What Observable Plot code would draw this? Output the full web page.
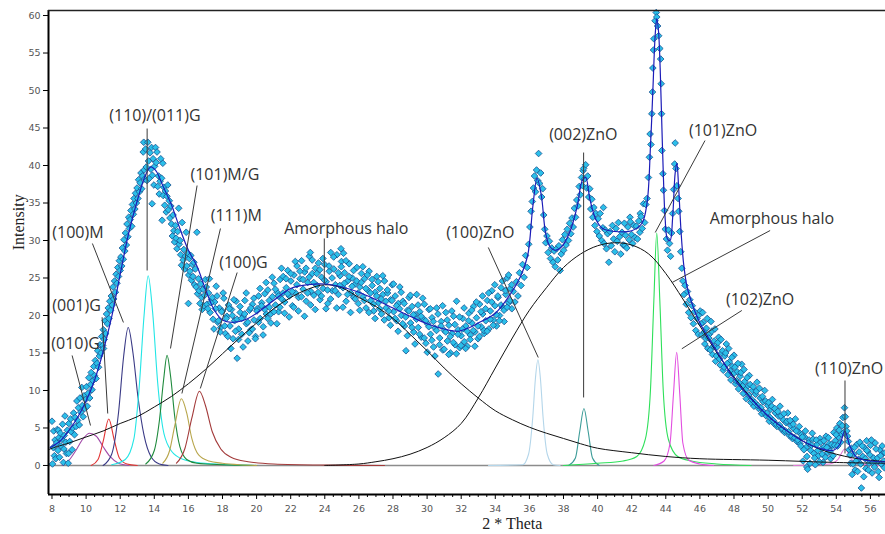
<!DOCTYPE html>
<html><head><meta charset="utf-8">
<script src="https://cdn.jsdelivr.net/npm/d3@7"></script>
<script src="https://cdn.jsdelivr.net/npm/@observablehq/plot@0.6"></script>
<style>
html,body{margin:0;padding:0;background:#fff;}
#chart{width:885px;height:534px;overflow:hidden;}
</style></head><body><div id="chart"></div>
<script>
// ---------- axis ticks ----------
const thetaTicks = [8,10,12,14,16,18,20,22,24,26,28,30,32,34,36,38,40,42,44,46,48,50,52,54,56];
const intensityTicks = [0,5,10,15,20,25,30,35,40,45,50,55,60];
const xDomain = [7.795, 56.886];
const yDomain = [-3.87, 60.67];

// ---------- measured points (2θ, intensity) flat pairs ----------
const scatterA = [8.00,5.9, 8.03,0.2, 8.07,2.4, 8.10,4.6, 8.14,1.3, 8.18,3.4, 8.22,0.9, 8.27,3.0, 8.31,4.8, 8.35,2.0, 8.38,4.7, 8.40,3.7, 8.44,1.1, 8.49,4.3, 8.53,2.6, 8.58,3.5, 8.62,5.5, 8.67,0.4, 8.70,2.2, 8.72,4.0, 8.76,6.6, 8.81,3.1, 8.85,1.6, 8.90,4.7, 8.95,0.3, 8.97,1.6, 8.99,5.6, 9.04,3.2, 9.09,6.2, 9.13,4.5, 9.18,2.1, 9.22,5.0, 9.27,7.0, 9.32,4.1, 9.36,6.4, 9.41,5.2, 9.46,8.6, 9.50,6.0, 9.55,7.7, 9.60,5.4, 9.64,9.0, 9.69,7.1, 9.75,10.4, 9.78,8.0, 9.83,6.5, 9.88,9.3, 9.92,7.6, 9.97,8.8, 10.02,10.5, 10.07,7.9, 10.11,9.6, 10.16,11.7, 10.21,9.0, 10.26,10.8, 10.30,12.4, 10.35,10.1, 10.40,11.3, 10.45,13.2, 10.49,12.0, 10.54,14.0, 10.59,11.6, 10.64,13.6, 10.68,15.3, 10.73,13.1, 10.78,14.6, 10.82,16.1, 10.87,15.0, 10.92,17.2, 10.97,16.0, 11.01,18.1, 11.02,15.6, 11.06,16.8, 11.11,19.3, 11.15,17.6, 11.20,20.2, 11.25,18.9, 11.30,21.0, 11.34,19.6, 11.39,21.9, 11.44,20.7, 11.48,22.6, 11.53,21.4, 11.58,23.8, 11.62,22.2, 11.67,24.6, 11.72,23.1, 11.76,25.5, 11.81,24.3, 11.86,26.4, 11.90,25.2, 11.95,27.3, 12.00,26.0];
const scatterB = [12.04,27.8, 12.09,26.6, 12.13,29.0, 12.18,27.5, 12.22,30.1, 12.27,28.6, 12.31,31.0, 12.36,29.4, 12.40,32.2, 12.45,30.5, 12.50,33.1, 12.54,31.6, 12.59,32.8, 12.63,34.0, 12.68,31.9, 12.72,34.8, 12.77,33.5, 12.81,35.6, 12.86,34.2, 12.90,36.3, 12.95,35.0, 12.99,37.0, 13.04,35.6, 13.08,38.1, 13.13,36.5, 13.17,37.7, 13.22,39.0, 13.26,36.9, 13.31,38.6, 13.35,41.8, 13.38,43.1, 13.40,39.4, 13.44,38.2, 13.49,42.2, 13.53,39.8, 13.57,38.0, 13.62,43.1, 13.66,40.6, 13.71,38.3, 13.75,41.7, 13.80,39.5, 13.84,42.4, 13.87,34.9, 13.89,38.7, 13.93,40.9, 13.98,37.4, 14.02,39.9, 14.07,42.4, 14.11,40.4, 14.16,41.8, 14.20,37.2, 14.25,38.6, 14.29,36.2, 14.34,37.9, 14.38,40.9, 14.43,38.3, 14.46,32.7, 14.50,40.3, 14.52,36.0, 14.56,37.1, 14.61,34.7, 14.65,36.6, 14.70,33.8, 14.74,35.9, 14.79,37.4, 14.83,34.1, 14.88,35.3, 14.92,33.0, 14.97,34.6, 15.01,32.2, 15.06,30.6, 15.10,33.4, 15.15,31.3, 15.19,29.8, 15.24,32.0, 15.28,30.3, 15.33,28.9, 15.37,31.2, 15.43,34.3, 15.46,29.5, 15.51,30.0, 15.55,28.1, 15.60,26.7, 15.63,32.4, 15.69,27.4, 15.73,28.8, 15.78,26.2, 15.82,27.9, 15.87,31.1, 15.91,26.6, 15.96,28.3, 16.00,21.6, 16.02,25.4, 16.05,27.6, 16.09,25.9, 16.14,28.0, 16.18,24.7, 16.23,26.8, 16.27,25.2, 16.32,27.1, 16.36,24.1, 16.41,26.2, 16.45,23.8, 16.50,31.1, 16.54,22.9, 16.59,24.9, 16.63,23.3, 16.68,21.6, 16.72,24.2, 16.77,22.4, 16.81,20.8, 16.86,23.5, 16.90,21.3, 16.95,22.7];
const scatterC = [17.00,24.8, 17.09,21.5, 17.18,23.0, 17.27,20.4, 17.36,22.1, 17.45,19.5, 17.54,21.8, 17.63,23.9, 17.72,19.1, 17.81,21.0, 17.90,18.4, 17.99,20.6, 18.08,22.3, 18.17,17.6, 18.26,19.9, 18.35,21.4, 18.44,18.6, 18.53,20.8, 18.62,16.9, 18.71,19.3, 18.80,21.9, 18.86,14.3, 18.95,18.2, 19.04,20.4, 19.13,17.5, 19.22,19.8, 19.31,22.0, 19.40,18.9, 19.49,16.6, 19.58,20.7, 19.67,18.1, 19.76,21.5, 19.85,19.4, 19.94,17.2, 20.03,20.9, 20.12,22.6, 20.21,19.6, 20.30,21.7, 20.39,18.5, 20.48,22.9, 20.57,20.2, 20.66,23.4, 20.75,21.1, 20.84,19.0, 20.93,22.5, 21.02,24.3, 21.11,21.4, 21.20,23.1, 21.29,20.5, 21.38,24.8, 21.47,22.2, 21.56,25.2, 21.65,21.8, 21.74,23.7, 21.83,26.0, 21.92,22.6, 22.01,24.6, 22.10,21.3, 22.19,25.4, 22.28,23.0, 22.37,26.6, 22.46,22.4, 22.55,24.9, 22.64,27.3, 22.73,23.5, 22.82,25.8, 22.91,21.9, 23.00,24.4, 23.09,27.9, 23.15,28.4, 23.18,23.2, 23.27,25.6, 23.36,22.7, 23.45,26.3, 23.54,24.0, 23.63,27.0, 23.72,22.1, 23.81,25.1, 23.90,23.6, 23.99,26.8, 24.08,24.5, 24.17,21.6, 24.26,25.9, 24.35,28.4, 24.44,23.3, 24.53,26.2, 24.62,24.1, 24.71,28.1, 24.80,22.8, 24.89,25.3, 24.95,28.9, 24.98,27.2, 25.07,23.7, 25.10,28.3, 25.16,25.7, 25.25,21.9, 25.34,24.6, 25.43,26.9, 25.52,23.0, 25.61,25.0, 25.70,22.4, 25.79,24.2, 25.88,26.4, 25.97,21.6, 26.06,23.8, 26.15,25.6, 26.24,22.5, 26.33,24.9, 26.42,21.0, 26.51,23.4, 26.60,25.9, 26.69,22.0, 26.78,24.0, 26.87,20.6, 26.96,23.1, 27.05,25.2, 27.14,21.7, 27.23,23.6, 27.32,20.2, 27.41,22.8, 27.50,24.6, 27.59,21.0, 27.68,23.0, 27.77,19.7, 27.86,22.1, 27.95,24.1, 28.04,20.5, 28.13,22.6, 28.22,19.3, 28.31,21.6, 28.40,23.8, 28.49,20.0, 28.58,21.9, 28.67,18.6, 28.76,15.3, 28.85,20.7, 28.94,22.4, 29.03,19.0, 29.12,21.2, 29.21,17.8, 29.30,20.1, 29.39,22.8, 29.48,18.4, 29.57,20.5, 29.66,17.1, 29.75,19.6, 29.84,21.5, 29.93,16.3, 30.02,18.9, 30.11,20.8, 30.20,17.5, 30.29,19.7, 30.38,15.8, 30.47,18.3, 30.56,21.0, 30.65,12.2, 30.74,17.0, 30.83,19.2, 30.92,15.4, 31.01,18.0, 31.10,20.4, 31.19,16.6, 31.28,18.7, 31.37,15.0, 31.46,17.6, 31.55,19.9, 31.64,16.1, 31.73,21.9, 31.82,18.1, 31.91,15.7, 32.00,17.3, 32.09,19.6, 32.18,16.5, 32.27,18.6, 32.36,15.9, 32.45,20.3, 32.54,17.4, 32.63,19.0, 32.72,21.2, 32.81,17.8, 32.90,19.7, 32.99,16.9, 33.08,21.5, 33.17,18.5, 33.26,20.2, 33.35,17.6, 33.44,19.3, 33.53,22.0, 33.62,18.2, 33.71,20.6, 33.80,23.3, 33.89,19.4, 33.98,21.3, 34.07,18.6, 34.16,22.4, 34.25,20.0, 34.34,23.7, 34.43,21.1, 34.52,19.2, 34.61,22.8, 34.70,25.0, 34.79,21.7, 34.88,23.6, 34.97,20.9];
const scatterC2 = [17.05,23.8, 17.14,20.9, 17.23,24.9, 17.32,21.7, 17.41,22.4, 17.50,18.2, 17.59,20.9, 17.68,22.6, 17.77,19.3, 17.86,17.8, 17.95,20.5, 18.04,23.0, 18.13,18.6, 18.22,19.6, 18.31,17.2, 18.40,20.9, 18.49,15.6, 18.58,20.0, 18.67,22.1, 18.76,17.9, 18.85,19.5, 18.94,16.8, 19.03,21.2, 19.12,19.6, 19.21,15.8, 19.30,20.2, 19.39,23.0, 19.48,19.1, 19.57,17.7, 19.66,21.0, 19.75,18.2, 19.84,22.3, 19.93,16.9, 20.02,20.6, 20.11,19.1, 20.20,23.6, 20.29,21.3, 20.38,17.4, 20.47,20.8, 20.56,24.4, 20.65,19.6, 20.74,22.0, 20.83,20.2, 20.92,25.1, 21.01,20.5, 21.10,23.5, 21.19,18.9, 21.28,22.6, 21.37,21.1, 21.46,26.3, 21.55,23.0, 21.64,20.3, 21.73,24.9, 21.82,22.9, 21.91,19.8, 22.00,25.6, 22.09,23.2, 22.18,21.1, 22.27,27.2, 22.36,24.1, 22.45,20.6, 22.54,25.9, 22.63,22.5, 22.72,24.8, 22.81,19.9, 22.90,26.3, 22.99,23.0, 23.08,25.1, 23.17,21.4, 23.26,27.4, 23.35,24.4, 23.44,20.8, 23.53,25.6, 23.62,23.1, 23.71,26.1, 23.80,22.6, 23.89,27.6, 23.98,24.7, 24.07,20.9, 24.16,23.4, 24.25,26.6, 24.34,22.2, 24.43,25.0, 24.52,27.8, 24.61,23.3, 24.70,21.0, 24.79,25.7, 24.88,24.0, 24.97,26.5, 25.06,21.1, 25.15,24.3, 25.24,27.3, 25.33,22.8, 25.42,25.2, 25.51,20.4, 25.60,23.9, 25.69,26.0, 25.78,22.2, 25.87,24.6, 25.96,23.0, 26.05,20.7, 26.14,24.4, 26.23,26.5, 26.32,22.0, 26.41,23.6, 26.50,25.4, 26.59,20.4, 26.68,23.0, 26.77,24.8, 26.86,21.5, 26.95,19.6, 27.04,22.6, 27.13,24.5, 27.22,20.9, 27.31,22.2, 27.40,25.3, 27.49,19.4, 27.58,21.9, 27.67,23.4, 27.76,20.6, 27.85,18.7, 27.94,22.0, 28.03,24.2, 28.12,19.6, 28.21,21.3, 28.30,17.9, 28.39,20.9, 28.48,23.1, 28.57,18.9, 28.66,21.6, 28.75,19.8, 28.84,17.3, 28.93,20.6, 29.02,22.7, 29.11,18.4, 29.20,20.1, 29.29,16.2, 29.38,19.5, 29.47,21.4, 29.56,17.5, 29.65,19.9, 29.74,22.3, 29.83,17.0, 29.92,19.3, 30.01,15.1, 30.10,18.5, 30.19,20.9, 30.28,16.7, 30.37,19.2, 30.46,14.6, 30.55,18.0, 30.64,20.2, 30.73,16.1, 30.82,18.6, 30.91,21.3, 31.00,15.5, 31.09,17.8, 31.18,19.4, 31.27,14.8, 31.36,17.2, 31.45,20.6, 31.54,16.4, 31.63,18.8, 31.72,14.9, 31.81,17.5, 31.90,19.8, 31.99,16.0, 32.08,18.2, 32.17,21.0, 32.26,15.6, 32.35,17.9, 32.44,19.3, 32.53,16.8, 32.62,20.7, 32.71,18.0, 32.80,15.9, 32.89,21.8, 32.98,18.6, 33.07,17.2, 33.16,20.5, 33.25,22.6, 33.34,18.0, 33.43,20.9, 33.52,17.9, 33.61,23.0, 33.70,19.5, 33.79,21.8, 33.88,18.7, 33.97,24.1, 34.06,20.1, 34.15,22.6, 34.24,19.3, 34.33,21.4, 34.42,24.6, 34.51,20.7, 34.60,23.3, 34.69,21.1, 34.78,25.4, 34.87,22.0, 34.96,24.1];
const scatterD = [35.06,23.2, 35.15,21.8, 35.24,24.5, 35.33,22.6, 35.42,25.7, 35.51,24.0, 35.60,26.8, 35.69,25.1, 35.78,28.0, 35.87,26.4, 35.96,29.5, 36.03,31.8, 36.10,33.9, 36.17,35.2, 36.24,37.0, 36.30,38.6, 36.36,36.5, 36.42,39.4, 36.48,38.0, 36.54,41.6, 36.60,37.6, 36.66,39.0, 36.72,35.8, 36.78,36.9, 36.84,33.4, 36.90,31.5, 36.96,29.7, 37.03,30.6, 37.10,28.4, 37.17,29.9, 37.24,27.6, 37.31,29.0, 37.38,27.1, 37.45,28.6, 37.52,26.5, 37.59,28.9, 37.66,27.4, 37.73,29.3, 37.80,26.0, 37.87,28.2, 37.94,30.1, 38.01,28.7, 38.08,30.8, 38.15,29.4, 38.22,31.5, 38.29,30.0, 38.36,32.3, 38.43,30.9, 38.50,33.0, 38.57,31.8, 38.64,34.3, 38.71,33.1, 38.78,35.4, 38.85,34.6, 38.92,37.2, 38.99,36.1, 39.06,38.4, 39.12,37.3, 39.15,39.3, 39.18,39.6, 39.24,38.2, 39.30,40.1, 39.36,37.0, 39.42,38.6, 39.48,35.8, 39.54,36.9, 39.60,34.2, 39.66,35.5, 39.72,33.1, 39.78,34.4, 39.84,32.0, 39.90,33.6, 39.96,31.2, 40.03,32.9, 40.10,30.6, 40.15,33.6, 40.24,30.0, 40.31,31.7, 40.34,34.4, 40.38,29.6, 40.45,31.4, 40.52,28.9, 40.59,30.9, 40.66,27.1, 40.73,31.2, 40.80,29.3, 40.87,32.0, 40.94,30.2, 41.01,28.5, 41.08,31.6, 41.15,29.9, 41.22,32.4, 41.29,30.5, 41.36,28.2, 41.43,31.1, 41.50,29.4, 41.57,32.3, 41.60,29.3, 41.64,30.7, 41.71,29.0, 41.78,31.8, 41.85,30.1, 41.90,33.1, 41.92,32.5, 41.99,30.8, 42.06,29.6, 42.13,32.0, 42.20,30.4, 42.27,31.9, 42.34,30.2, 42.41,32.6, 42.48,31.1, 42.50,33.6, 42.55,33.2, 42.62,31.6, 42.69,34.9, 42.76,32.4, 42.83,34.8, 42.90,35.6, 42.98,38.4, 43.04,41.1, 43.08,44.2, 43.13,42.8, 43.18,46.9, 43.22,49.8, 43.24,53.0, 43.28,55.4, 43.30,56.9, 43.37,59.3, 43.44,60.4, 43.47,59.8, 43.52,58.6, 43.58,57.3, 43.65,55.6, 43.70,54.2, 43.73,50.9, 43.75,46.9, 43.77,42.0, 43.83,38.9, 43.86,36.7, 43.92,34.0, 43.97,31.5, 44.04,30.2, 44.10,28.7, 44.16,31.4, 44.22,29.6, 44.28,27.9, 44.34,31.0, 44.40,33.6, 44.46,36.8, 44.52,40.2, 44.55,43.0, 44.60,39.6, 44.66,37.3, 44.72,35.6, 44.76,33.9, 44.82,31.2, 44.88,28.5, 44.94,26.3, 45.00,24.6, 45.07,22.8, 45.13,24.0, 45.20,21.5, 45.27,23.2, 45.34,20.4, 45.41,22.1, 45.48,19.7, 45.55,21.3, 45.62,18.9, 45.69,20.5, 45.76,18.0, 45.83,19.6, 45.90,17.5, 45.96,20.1];
const scatterE = [46.02,20.6, 46.11,17.4, 46.20,19.1, 46.29,16.2, 46.38,18.3, 46.47,15.6, 46.56,17.5, 46.65,19.2, 46.74,14.8, 46.83,16.6, 46.92,13.9, 47.01,15.8, 47.10,17.1, 47.19,13.4, 47.28,15.0, 47.37,12.7, 47.46,14.6, 47.55,16.2, 47.64,12.1, 47.73,13.8, 47.82,11.4, 47.91,13.2, 48.00,14.7, 48.09,10.9, 48.18,12.5, 48.27,10.2, 48.36,11.9, 48.45,13.5, 48.54,9.6, 48.63,11.2, 48.72,8.9, 48.81,10.6, 48.90,12.0, 48.99,8.4, 49.08,10.0, 49.17,7.9, 49.26,9.5, 49.35,11.1, 49.44,7.6, 49.53,9.0, 49.62,6.9, 49.71,8.5, 49.80,10.0, 49.89,6.6, 49.98,8.0, 50.07,5.9, 50.16,7.5, 50.25,8.8, 50.34,5.6, 50.43,7.0, 50.52,5.2, 50.61,6.6, 50.70,7.9, 50.79,4.8, 50.88,6.1, 50.97,4.4, 51.06,5.7, 51.15,7.0, 51.24,4.0, 51.33,5.3, 51.42,3.6, 51.51,4.9, 51.60,6.2, 51.69,3.2, 51.78,4.5, 51.87,2.9, 51.96,4.1, 52.05,0.6, 52.14,3.8, 52.23,2.4, 52.27,-0.2, 52.32,-0.5, 52.41,3.4, 52.50,2.0, 52.59,4.3, 52.68,1.6, 52.77,0.1, 52.86,2.8, 52.95,1.3, 53.04,3.6, 53.13,2.2, 53.22,0.4, 53.31,2.5, 53.40,3.9, 53.49,1.7, 53.58,2.9, 53.67,0.9, 53.76,2.6, 53.85,4.4, 53.94,3.3, 54.03,5.0, 54.12,3.8, 54.21,5.6, 54.30,4.2, 54.39,6.4, 54.48,7.7, 54.57,5.2, 54.66,3.9, 54.75,2.1, 54.84,0.3, 54.93,-1.2, 55.02,1.5, 55.11,-0.6, 55.20,2.8, 55.29,0.8, 55.38,3.1, 55.47,-3.0, 55.56,1.2, 55.65,2.4, 55.74,-0.4, 55.78,3.3, 55.83,1.9, 55.92,0.3, 56.01,2.7, 56.10,-1.0, 56.19,1.0, 56.28,3.0, 56.37,0.5, 56.46,-0.8, 56.55,2.1, 56.64,0.2, 56.73,1.6, 56.82,-0.3];
const scatterE2 = [46.07,18.9, 46.16,20.4, 46.25,17.8, 46.34,16.9, 46.43,19.6, 46.52,17.0, 46.61,15.4, 46.70,17.9, 46.79,15.9, 46.88,18.2, 46.97,14.6, 47.06,16.4, 47.15,14.2, 47.24,16.8, 47.33,15.3, 47.42,13.1, 47.51,15.0, 47.60,13.6, 47.69,15.6, 47.78,12.6, 47.87,14.4, 47.96,12.2, 48.05,13.1, 48.14,11.3, 48.23,13.6, 48.32,11.0, 48.41,12.4, 48.50,10.6, 48.59,12.8, 48.68,10.1, 48.77,11.7, 48.86,9.4, 48.95,10.8, 49.04,8.8, 49.13,10.5, 49.22,8.4, 49.31,9.9, 49.40,8.0, 49.49,10.3, 49.58,7.7, 49.67,9.2, 49.76,7.1, 49.85,8.6, 49.94,7.0, 50.03,8.4, 50.12,6.4, 50.21,7.9, 50.30,6.0, 50.39,7.6, 50.48,5.5, 50.57,7.2, 50.66,5.4, 50.75,6.6, 50.84,4.9, 50.93,6.9, 51.02,4.6, 51.11,5.9, 51.20,4.5, 51.29,6.0, 51.38,3.9, 51.47,5.5, 51.56,3.7, 51.65,4.6, 51.74,3.4, 51.83,5.2, 51.92,2.6, 52.01,3.8, 52.10,2.1, 52.19,4.6, 52.28,1.2, 52.37,3.0, 52.46,0.3, 52.55,2.7, 52.64,3.5, 52.73,1.0, 52.82,3.4, 52.91,2.0, 53.00,0.5, 53.09,3.1, 53.18,1.5, 53.27,3.3, 53.36,1.1, 53.45,2.4, 53.54,3.7, 53.63,1.9, 53.72,2.8, 53.81,1.3, 53.90,2.7, 53.99,4.1, 54.08,2.6, 54.17,4.7, 54.26,3.1, 54.35,5.3, 54.44,4.4, 54.53,6.5, 54.62,4.6, 54.71,3.2, 54.80,1.4, 54.89,2.3, 54.98,0.2, 55.07,2.4, 55.16,0.6, 55.25,-0.8, 55.34,1.8, 55.43,0.2, 55.52,2.6, 55.61,-1.5, 55.70,0.9, 55.79,2.0, 55.88,-0.6, 55.97,1.4, 56.06,3.4, 56.15,0.4, 56.24,-0.2, 56.33,2.2, 56.42,1.0, 56.51,-1.6, 56.60,1.3, 56.69,2.6, 56.78,0.6, 56.87,1.7];

// ---------- fitted total profile ----------
const fitProfile = [[7.9,2.4],[8.5,3.3],[9,4.7],[9.5,6.4],[10,8.6],[10.5,11.4],[11,15.2],[11.5,19.8],[12,25.5],[12.5,31],[13,35.3],[13.5,38.8],[13.8,39.8],[14.1,39.3],[14.5,37.3],[15,34.8],[15.5,31.6],[16,28.7],[16.5,26.6],[17,23.5],[17.5,20.8],[18,19.4],[18.5,19.1],[19,19.2],[19.5,19.6],[20,20.3],[21,22.0],[22,23.6],[23,24.1],[24,24.2],[25,23.8],[26,23.1],[27,22.1],[28,21.0],[29,19.9],[30,18.9],[31,18.2],[31.8,17.9],[32.5,18.4],[33,19.0],[34,20.3],[34.9,22.9],[35.5,25.3],[35.9,28.0],[36.2,34.5],[36.45,38.3],[36.7,36.0],[36.95,31.0],[37.2,29.2],[37.5,28.7],[37.9,29.2],[38.4,31.3],[38.8,34.5],[39.1,38.0],[39.3,38.4],[39.55,35.5],[39.9,32.8],[40.3,31.6],[41,31.2],[42,31.3],[42.6,32.3],[42.9,35],[43.1,42.5],[43.25,50.5],[43.38,57.5],[43.47,59.6],[43.57,58],[43.67,53],[43.76,46],[43.86,38.5],[43.96,33],[44.1,30.2],[44.25,30.0],[44.4,33],[44.55,39],[44.65,40.3],[44.75,37.2],[44.9,31],[45.05,26.8],[45.25,23.8],[45.6,21.2],[46,19.0],[47,15.2],[48,11.6],[49,8.9],[50,6.6],[51,4.8],[52,3.3],[53,2.3],[53.8,2.0],[54.2,2.8],[54.5,4.6],[54.8,2.6],[55.2,1.1],[56,0.6],[56.9,0.5]];

// ---------- amorphous halos ----------
const halo1 = [[7.8,2.1],[8,2.3],[9,3.0],[10,3.8],[11,4.6],[12,5.6],[13,6.5],[14,7.8],[15,9.2],[16,10.9],[17,12.8],[18,14.9],[19,17.0],[20,19.0],[21,20.9],[22,22.4],[23,23.5],[24,24.1],[25,23.7],[26,22.4],[27,21.2],[28,19.6],[29,17.5],[30,15.3],[31,13.0],[32,10.9],[33,9.0],[34,7.3],[35,6.1],[36,5.1],[37,4.3],[38,3.6],[39,2.9],[40,2.3],[42,1.7],[44,1.2],[46,0.9],[50,0.7],[54,0.4],[56.9,0.3]];
const halo2 = [[24,0],[26,0.2],[27,0.5],[28,0.9],[29,1.5],[30,2.4],[31,3.7],[32,5.6],[33,9.0],[34,13.0],[35,17.0],[36,20.7],[37,23.7],[38,26.4],[39,28.2],[40,29.3],[41,29.7],[42,29.4],[43,28.2],[44,25.6],[45,22.2],[46,18.6],[47,15.0],[48,11.8],[49,9.0],[50,6.6],[51,4.8],[52,3.3],[53,2.2],[54,1.5],[55,1.0],[56,0.7],[56.9,0.5]];

// ---------- crystalline peak components ----------
const pk010G = [[8.6,0],[9.0,0.7],[9.4,2.0],[9.8,3.5],[10.2,4.3],[10.6,3.9],[11.0,2.5],[11.4,1.2],[11.9,0.3],[12.5,0]];
const pk001G = [[10.3,0],[10.7,0.8],[11.0,3.2],[11.33,6.2],[11.65,3.4],[11.95,1.0],[12.4,0.2],[13,0]];
const pk100M = [[11.0,0],[11.5,1.5],[11.9,7],[12.2,14.5],[12.47,18.4],[12.75,15],[13.05,9],[13.4,4],[13.8,1.2],[14.3,0.2],[14.8,0]];
const pk110G = [[11.5,0.1],[12.3,0.8],[12.8,3.5],[13.1,10],[13.4,20],[13.64,25.3],[13.9,20.5],[14.2,11],[14.5,5],[14.9,2.3],[15.5,1.0],[16.5,0.4],[18,0.15],[20,0]];
const pk101MG = [[13.5,0.2],[14.0,2],[14.3,6],[14.55,11.5],[14.75,14.7],[14.95,12],[15.2,6.5],[15.5,2.5],[15.9,0.8],[16.5,0.3],[18,0.1],[20,0]];
const pk111M = [[14.5,0.3],[14.9,2],[15.2,5.3],[15.59,8.9],[15.9,7],[16.2,3.6],[16.6,1.4],[17.2,0.6],[18,0.3],[19,0.1],[20,0]];
const pk100G = [[15.3,0.3],[15.8,2.3],[16.2,6.3],[16.65,9.9],[17.0,8],[17.4,4.5],[17.9,2.2],[18.5,1.1],[19.5,0.5],[21,0.2],[24,0.05],[27.5,0]];
const pk100ZnO = [[33.6,0],[35.6,0.1],[35.95,1.5],[36.2,6.5],[36.35,11.5],[36.5,14.1],[36.65,11.5],[36.8,6.5],[37.05,1.5],[37.4,0.1],[37.8,0]];
const pk002ZnO = [[38.3,0],[38.7,1],[38.95,4.5],[39.2,7.6],[39.45,4.5],[39.7,1],[40.1,0]];
const pk101ZnO = [[38,0],[40,0.3],[41.5,0.6],[42.3,1.2],[42.8,3.5],[43.1,10],[43.3,22],[43.47,31],[43.65,22],[43.85,10],[44.15,3.5],[44.7,1.2],[45.5,0.6],[47,0.2],[49,0]];
const pk102ZnO = [[43.3,0],[43.9,0.6],[44.25,3],[44.45,9.5],[44.64,15.1],[44.82,9.5],[45.0,3],[45.35,0.7],[46,0.2],[46.8,0]];
const pk110ZnO = [[51.5,0],[53.6,0.2],[54.1,0.8],[54.5,2.2],[54.9,0.8],[55.4,0.2],[56.9,0]];
const peakNames = ["(010)G","(001)G","(100)M","(110)/(011)G","(101)M/G","(111)M","(100)G","(100)ZnO","(002)ZnO","(101)ZnO","(102)ZnO","(110)ZnO"];
const peakData = [pk010G,pk001G,pk100M,pk110G,pk101MG,pk111M,pk100G,pk100ZnO,pk002ZnO,pk101ZnO,pk102ZnO,pk110ZnO];
const peakColors = ["#a24aa8","#e23434","#3a3a86","#22e6e6","#1e8a3c","#b8a64c","#a33a3a","#b4d6ea","#3c9c98","#2ee05a","#e24ee0","#e27ad8"];

// ---------- annotations ----------
const annoText = ["(010)G","(001)G","(100)M","(110)/(011)G","(101)M/G","(111)M","(100)G","Amorphous halo","(100)ZnO","(002)ZnO","(101)ZnO","Amorphous halo","(102)ZnO","(110)ZnO"];
const annoX = [9.38,9.44,9.52,14.04,18.14,18.81,19.23,25.26,33.12,39.16,47.36,50.23,49.53,54.75];
const annoY = [16.27,21.33,31.07,46.67,38.8,33.33,27.07,31.6,31.07,44.13,44.67,32.93,22.13,12.93];
const leadX1 = [9.18,10.94,10.37,13.58,16.51,17.88,18.86,23.97,33.59,39.18,46.3,50.12,48.46,54.51];
const leadY1 = [14.67,19.77,29.6,44.93,37.33,31.6,25.73,30.27,29.07,41.73,43.33,31.33,20.67,11.33];
const leadX2 = [10.26,11.27,12.19,13.58,14.95,15.62,16.70,23.97,36.52,39.18,43.38,44.37,44.94,54.51];
const leadY2 = [5.33,6.93,19.07,26.0,15.6,9.6,10.27,24.27,14.4,9.07,31.07,24.4,15.56,1.6];

// ---------- build ----------
const pairs = (flat) => { const o = []; for (let i = 0; i < flat.length; i += 2) o.push({t: flat[i], v: flat[i+1]}); return o; };
const obj = (arr) => arr.map(([t, v]) => ({t, v}));
const scatter = [scatterA, scatterB, scatterC, scatterC2, scatterD, scatterE, scatterE2].flatMap(pairs);
const annos = annoText.map((s, i) => ({s, x: annoX[i], y: annoY[i], x1: leadX1[i], y1: leadY1[i], x2: leadX2[i], y2: leadY2[i]}));
const minorTicks = d3.range(8, 56.9, 0.5).filter(d => !thetaTicks.includes(d));

const pxX = 17.05, pxY = 7.5; // px per unit (for tick lengths)
const xLo = xDomain[0], yLo = yDomain[0], yHi = yDomain[1];

const marks = [
  Plot.ruleY([0], {stroke: "#8c8c8c", strokeWidth: 1.5}),
  ...peakData.map((d, i) => Plot.line(obj(d), {x: "t", y: "v", stroke: peakColors[i], strokeWidth: 1.1, curve: "monotone-x"})),
  Plot.dot(scatter, {x: "t", y: "v", symbol: "diamond2", r: 3.0, fill: "#2bbfe9", stroke: "#15508f", strokeWidth: 0.8}),
  Plot.line(obj(halo1), {x: "t", y: "v", stroke: "#111", strokeWidth: 1, curve: "catmull-rom"}),
  Plot.line(obj(halo2), {x: "t", y: "v", stroke: "#111", strokeWidth: 1, curve: "catmull-rom"}),
  Plot.line(obj(fitProfile), {x: "t", y: "v", stroke: "#1c1cb8", strokeWidth: 1.2, curve: "catmull-rom"}),
  Plot.link(annos, {x1: "x1", y1: "y1", x2: "x2", y2: "y2", stroke: "#3a3a3a", strokeWidth: 1}),
  Plot.text(annos, {x: "x", y: "y", text: "s", fontSize: 16, fontFamily: "Open Sans", fill: "#333", textAnchor: "middle", lineAnchor: "middle"}),
  // frame & axes
  Plot.ruleX([xLo], {stroke: "#000", strokeWidth: 2}),
  Plot.ruleY([yHi], {stroke: "#222", strokeWidth: 1.5}),
  Plot.ruleY([yLo], {stroke: "#000", strokeWidth: 2}),
  Plot.ruleX(thetaTicks, {x: d => d, y1: yLo, y2: yLo - 5 / pxY, stroke: "#000", strokeWidth: 1}),
  Plot.ruleX(minorTicks, {x: d => d, y1: yLo, y2: yLo - 3 / pxY, stroke: "#000", strokeWidth: 1}),
  Plot.ruleY(intensityTicks, {y: d => d, x1: xLo - 5 / pxX, x2: xLo, stroke: "#000", strokeWidth: 1}),
  Plot.text(thetaTicks, {x: d => d, y: yLo, dy: 14, text: d => String(d), fontSize: 9.5, fontFamily: "DejaVu Sans", fill: "#555", lineAnchor: "middle"}),
  Plot.text(intensityTicks, {x: xLo, y: d => d, dx: -8, text: d => String(d), fontSize: 9.5, fontFamily: "DejaVu Sans", fill: "#555", textAnchor: "end", lineAnchor: "middle"}),
  Plot.text(["2 * Theta"], {x: 35, frameAnchor: "bottom", dy: 29, text: d => d, fontSize: 16, fontFamily: "Liberation Serif", fill: "#222", lineAnchor: "middle"}),
  Plot.text(["Intensity"], {y: 28.7, frameAnchor: "left", dx: -30, rotate: -90, text: d => d, fontSize: 16, fontFamily: "Liberation Serif", fill: "#222", lineAnchor: "middle"})
];

const chart = Plot.plot({
  width: 885, height: 534,
  marginLeft: 48, marginRight: 0, marginTop: 10, marginBottom: 40,
  x: {domain: xDomain, axis: null},
  y: {domain: yDomain, axis: null},
  style: {background: "#fff", overflow: "visible"},
  marks
});
document.getElementById("chart").appendChild(chart);
</script></body></html>
